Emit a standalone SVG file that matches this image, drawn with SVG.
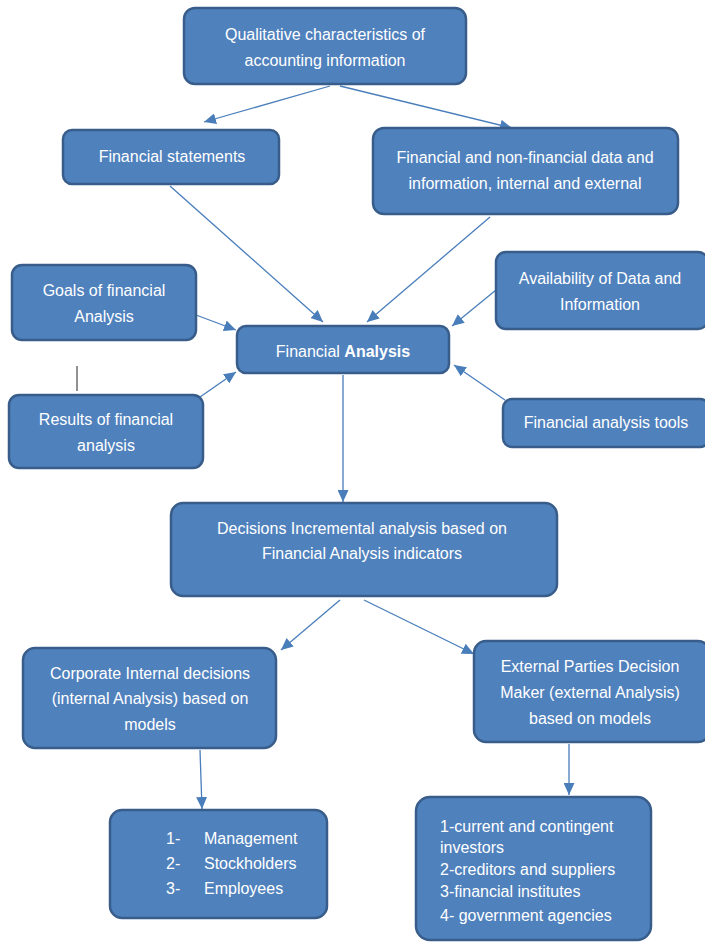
<svg xmlns="http://www.w3.org/2000/svg" width="705" height="943" viewBox="0 0 705 943">
<style>
.box{fill:#4F81BD;stroke:#385D8A;stroke-width:2.5}
.t{font-family:"Liberation Sans",Arial,sans-serif;font-size:16px;fill:#ffffff;text-anchor:middle}
.l{font-family:"Liberation Sans",Arial,sans-serif;font-size:16px;fill:#ffffff}
.c{stroke:#4A7EBB;stroke-width:1.3;fill:none;marker-end:url(#ah)}
</style>
<defs>
<marker id="ah" markerUnits="userSpaceOnUse" markerWidth="13" markerHeight="11" refX="12" refY="5.5" orient="auto">
<path d="M0,0 L12,5.5 L0,11 Z" fill="#4A7EBB"/>
</marker>
</defs>
<rect width="705" height="943" fill="#ffffff"/>
<g id="connectors">
<line class="c" x1="330" y1="86" x2="204" y2="122"/>
<line class="c" x1="340" y1="86" x2="512" y2="128"/>
<line class="c" x1="170" y1="186" x2="323" y2="322"/>
<line class="c" x1="490" y1="217" x2="367" y2="322"/>
<line class="c" x1="196" y1="315" x2="236" y2="330"/>
<line class="c" x1="200" y1="397" x2="236" y2="372"/>
<line class="c" x1="496" y1="290" x2="452" y2="326"/>
<line class="c" x1="505" y1="400" x2="454" y2="365"/>
<line class="c" x1="343" y1="375" x2="343" y2="502"/>
<line class="c" x1="340" y1="600" x2="281" y2="650"/>
<line class="c" x1="364" y1="600" x2="474" y2="654"/>
<line class="c" x1="200" y1="750" x2="202" y2="809"/>
<line class="c" x1="569" y1="744" x2="569" y2="795"/>
<line x1="77" y1="366" x2="77" y2="391" stroke="#222" stroke-width="1"/>
</g>
<g id="n_qual"><rect class="box" x="184" y="8" width="282" height="76" rx="11"/>
<text class="t" x="325" y="40">Qualitative characteristics of</text>
<text class="t" x="325" y="66">accounting information</text></g>
<g id="n_fs"><rect class="box" x="63" y="130" width="216" height="54" rx="9"/>
<text class="t" x="172" y="162">Financial statements</text></g>
<g id="n_fnf"><rect class="box" x="373" y="128" width="305" height="86" rx="11"/>
<text class="t" x="525" y="163">Financial and non-financial data and</text>
<text class="t" x="525" y="189">information, internal and external</text></g>
<g id="n_goals"><rect class="box" x="12" y="265" width="184" height="75" rx="10"/>
<text class="t" x="104" y="296">Goals of financial</text>
<text class="t" x="104" y="322">Analysis</text></g>
<g id="n_avail"><rect class="box" x="496" y="252" width="212" height="77" rx="10"/>
<text class="t" x="600" y="284">Availability of Data and</text>
<text class="t" x="600" y="310">Information</text></g>
<g id="n_fa"><rect class="box" x="237" y="326" width="212" height="47" rx="9"/>
<text class="t" x="343" y="357">Financial <tspan font-weight="bold">Analysis</tspan></text></g>
<g id="n_results"><rect class="box" x="9" y="395" width="194" height="73" rx="10"/>
<text class="t" x="106" y="425">Results of financial</text>
<text class="t" x="106" y="451">analysis</text></g>
<g id="n_tools"><rect class="box" x="503" y="399" width="206" height="48" rx="9"/>
<text class="t" x="606" y="428">Financial analysis tools</text></g>
<g id="n_dec"><rect class="box" x="171" y="503" width="386" height="93" rx="12"/>
<text class="t" x="362" y="534">Decisions Incremental analysis based on</text>
<text class="t" x="362" y="559">Financial Analysis indicators</text></g>
<g id="n_corp"><rect class="box" x="23" y="648" width="253" height="100" rx="12"/>
<text class="t" x="150" y="679">Corporate Internal decisions</text>
<text class="t" x="150" y="704">(internal Analysis) based on</text>
<text class="t" x="150" y="730">models</text></g>
<g id="n_ext"><rect class="box" x="474" y="641" width="236" height="101" rx="12"/>
<text class="t" x="590" y="672">External Parties Decision</text>
<text class="t" x="590" y="698">Maker (external Analysis)</text>
<text class="t" x="590" y="724">based on models</text></g>
<g id="n_int_list"><rect class="box" x="110" y="810" width="217" height="108" rx="12"/>
<text class="l" x="166" y="844">1-</text><text class="l" x="204" y="844">Management</text>
<text class="l" x="166" y="869">2-</text><text class="l" x="204" y="869">Stockholders</text>
<text class="l" x="166" y="894">3-</text><text class="l" x="204" y="894">Employees</text></g>
<g id="n_ext_list"><rect class="box" x="416" y="797" width="235" height="143" rx="14"/>
<text class="l" x="440" y="832">1-current and contingent</text>
<text class="l" x="440" y="853">investors</text>
<text class="l" x="440" y="875">2-creditors and suppliers</text>
<text class="l" x="440" y="897">3-financial institutes</text>
<text class="l" x="440" y="921">4- government agencies</text></g>
</svg>
